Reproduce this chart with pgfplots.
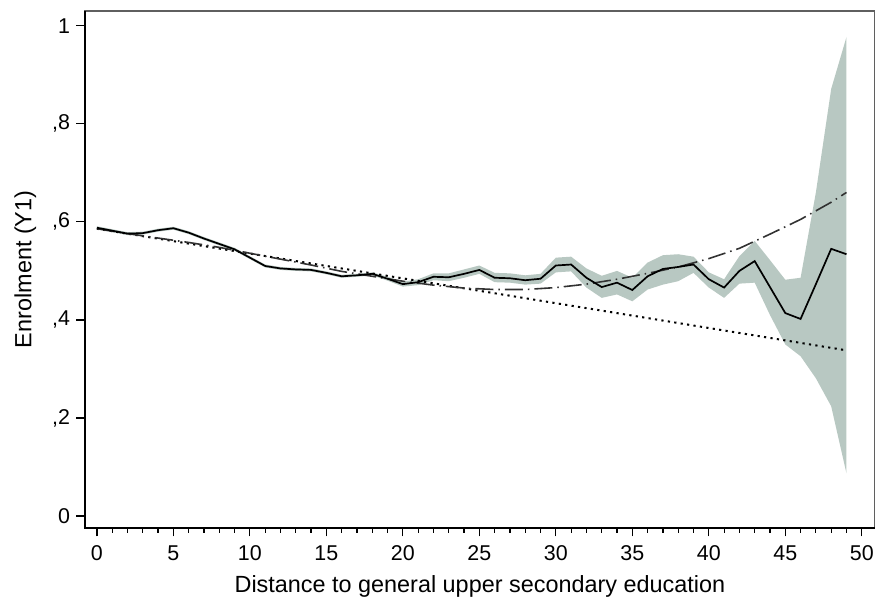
\documentclass[border=0pt]{standalone}
\usepackage{fontspec}
\setmainfont{Liberation Sans}
\usepackage{pgfplots}
\usepackage{pgfplotstable}
\pgfplotsset{compat=1.18}
\usepgfplotslibrary{fillbetween}
\definecolor{bandc}{RGB}{184,200,194}
\definecolor{qline}{RGB}{50,50,50}
\definecolor{framec}{RGB}{95,95,95}

\pgfplotstableread{
x y lo hi
0 0.588 0.585 0.591
1 0.582 0.579 0.585
2 0.576 0.573 0.579
3 0.577 0.574 0.580
4 0.583 0.580 0.586
5 0.587 0.584 0.590
6 0.578 0.575 0.581
7 0.566 0.563 0.569
8 0.555 0.552 0.558
9 0.544 0.541 0.547
10 0.527 0.524 0.530
11 0.510 0.507 0.513
12 0.505 0.502 0.508
13 0.503 0.500 0.506
14 0.502 0.499 0.505
15 0.496 0.493 0.499
16 0.489 0.486 0.492
17 0.491 0.488 0.494
18 0.494 0.491 0.497
19 0.484 0.480 0.488
20 0.473 0.468 0.478
21 0.477 0.471 0.483
22 0.488 0.481 0.495
23 0.487 0.479 0.495
24 0.494 0.486 0.503
25 0.502 0.494 0.511
26 0.486 0.477 0.496
27 0.485 0.476 0.495
28 0.481 0.472 0.491
29 0.484 0.474 0.494
30 0.511 0.497 0.527
31 0.513 0.499 0.529
32 0.486 0.466 0.505
33 0.467 0.445 0.490
34 0.476 0.452 0.500
35 0.461 0.438 0.486
36 0.489 0.462 0.517
37 0.504 0.472 0.532
38 0.508 0.479 0.534
39 0.513 0.496 0.529
40 0.483 0.466 0.497
41 0.466 0.445 0.483
42 0.500 0.474 0.530
43 0.520 0.476 0.561
44 0.467 0.410 0.522
45 0.414 0.350 0.482
46 0.402 0.326 0.486
47 0.473 0.281 0.660
48 0.545 0.224 0.871
49 0.534 0.087 0.977
}\main

\pgfplotstableread{
x q
0 0.586
2 0.576
4 0.567
6 0.558
8 0.548
10 0.536
12 0.524
14 0.512
16 0.499
18 0.489
20 0.479
22 0.471
24 0.465
26 0.462
28 0.462
30 0.466
32 0.473
34 0.483
36 0.495
38 0.508
40 0.525
42 0.546
44 0.575
46 0.605
48 0.640
49 0.660
}\quad

\begin{document}
\begin{tikzpicture}
\begin{axis}[
  scale only axis,
  width=790bp, height=517bp,
  xmin=-0.78, xmax=50.85,
  ymin=-0.024, ymax=1.03,
  axis line style={line width=1.2bp, draw=framec},
  xtick={0,5,...,50},
  minor x tick num=4,
  ytick={0,0.2,0.4,0.6,0.8,1},
  yticklabels={0,{,2},{,4},{,6},{,8},1},
  tick align=outside,
  xtick pos=bottom, ytick pos=left,
  major tick length=8.5bp, minor tick length=5bp,
  tick style={black, line width=1.2bp},
  every tick label/.append style={font=\fontsize{21.5}{24}\selectfont},
  /pgf/number format/assume math mode=true,
  xticklabel style={yshift=-6bp},
  yticklabel style={xshift=-3bp},
  label style={font=\fontsize{23.5}{27}\selectfont},
  xlabel={Distance to general upper secondary education},
  ylabel={Enrolment (Y1)},
  xlabel style={yshift=-8bp},
  ylabel style={yshift=9bp},
  clip mode=individual,
]
\addplot[name path=hi, draw=none, forget plot] table[x=x, y=hi] {\main};
\addplot[name path=lo, draw=none, forget plot] table[x=x, y=lo] {\main};
\addplot[fill=bandc, draw=none] fill between[of=hi and lo];
\addplot[black, line width=2bp, dash pattern=on 2.2bp off 4.3bp] coordinates {(0,0.586) (49,0.338)};
\addplot[qline, line width=1.6bp, dash pattern=on 18bp off 5bp on 1.5bp off 5bp] table[x=x, y=q] {\quad};
\addplot[black, line width=1.7bp] table[x=x, y=y] {\main};
\draw[black, line width=1.5bp] (rel axis cs:0,1) -- (rel axis cs:0,0) -- (rel axis cs:1,0);
\end{axis}
\path ([yshift=11bp]current axis.north);
\path ([xshift=2bp]current axis.east);
\path ([xshift=-85bp]current axis.west);
\path ([yshift=-73bp]current axis.south);
\end{tikzpicture}
\end{document}
